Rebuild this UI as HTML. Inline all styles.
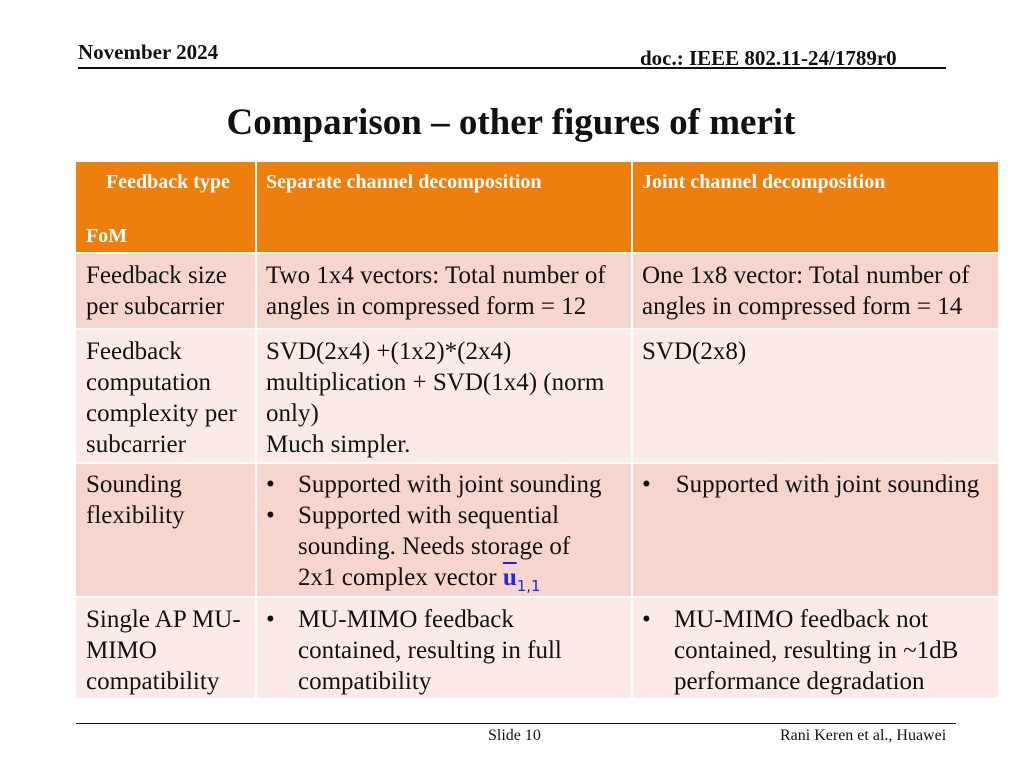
<!DOCTYPE html>
<html><head><meta charset="utf-8"><style>
body{margin:0;width:1024px;height:768px;background:#fff;position:relative;overflow:hidden;font-family:"Liberation Serif",serif;color:#111}
.a{position:absolute;white-space:nowrap}
.cell{position:absolute}
.t{position:absolute;white-space:nowrap;font-size:25px;line-height:31px}
.h{position:absolute;white-space:nowrap;font-size:20px;font-weight:bold;color:#fff;line-height:24px}
</style></head><body>
<div class="a" style="left:78px;top:40px;font-size:21px;font-weight:bold">November 2024</div>
<div class="a" style="left:640px;top:46px;font-size:21px;font-weight:bold">doc.: IEEE 802.11-24/1789r0</div>
<div class="a" style="left:78px;top:67px;width:868px;height:2px;background:#111"></div>
<div class="a" style="left:0;width:1022px;text-align:center;top:101px;font-size:37px;font-weight:bold">Comparison – other figures of merit</div>

<div>
<div class="cell" style="left:76px;top:162px;width:922px;height:90px;background:#EE7F0D"></div>
<div class="cell" style="left:76px;top:254px;width:922px;height:74px;background:#F6D6CC"></div>
<div class="cell" style="left:76px;top:330px;width:922px;height:132px;background:#FBEAE6"></div>
<div class="cell" style="left:76px;top:464px;width:922px;height:132px;background:#F6D6CC"></div>
<div class="cell" style="left:76px;top:598px;width:922px;height:100px;background:#FBEAE6"></div>
<div class="cell" style="left:255px;top:162px;width:2px;height:536px;background:#fff"></div>
<div class="cell" style="left:631px;top:162px;width:2px;height:536px;background:#fff"></div>

<div class="h" style="left:106px;top:170px">Feedback type</div>
<div class="h" style="left:86px;top:224px">FoM</div>
<div class="h" style="left:266px;top:170px">Separate channel decomposition</div>
<div class="h" style="left:642px;top:170px">Joint channel decomposition</div>

<div class="t" style="left:86px;top:260px">Feedback size<br>per subcarrier</div>
<div class="t" style="left:266px;top:260px">Two 1x4 vectors: Total number of<br>angles in compressed form = 12</div>
<div class="t" style="left:642px;top:260px">One 1x8 vector: Total number of<br>angles in compressed form = 14</div>

<div class="t" style="left:86px;top:336px">Feedback<br>computation<br>complexity per<br>subcarrier</div>
<div class="t" style="left:266px;top:336px">SVD(2x4) +(1x2)*(2x4)<br>multiplication + SVD(1x4) (norm<br>only)<br>Much simpler.</div>
<div class="t" style="left:642px;top:336px">SVD(2x8)</div>

<div class="t" style="left:86px;top:469px">Sounding<br>flexibility</div>
<div class="t" style="left:266px;top:469px">•<br>•</div>
<div class="t" style="left:298px;top:469px">Supported with joint sounding<br>Supported with sequential<br>sounding. Needs storage of<br>2x1 complex vector <b style="color:#2222ee;text-decoration:overline">u</b><sub style="color:#2222ee;font-family:'DejaVu Sans',sans-serif;font-size:15px">1,1</sub></div>
<div class="t" style="left:642px;top:469px">•&nbsp;&nbsp;&nbsp;&nbsp;Supported with joint sounding</div>

<div class="t" style="left:86px;top:604px">Single AP MU-<br>MIMO<br>compatibility</div>
<div class="t" style="left:266px;top:604px">•</div>
<div class="t" style="left:298px;top:604px">MU-MIMO feedback<br>contained, resulting in full<br>compatibility</div>
<div class="t" style="left:642px;top:604px">•</div>
<div class="t" style="left:674px;top:604px">MU-MIMO feedback not<br>contained, resulting in ~1dB<br>performance degradation</div>
</div>

<div class="a" style="left:76px;top:723px;width:880px;height:1px;background:#111"></div>
<div class="a" style="left:488px;top:727px;font-size:16px">Slide 10</div>
<div class="a" style="left:780px;top:727px;font-size:16px">Rani Keren et al., Huawei</div>
</body></html>
